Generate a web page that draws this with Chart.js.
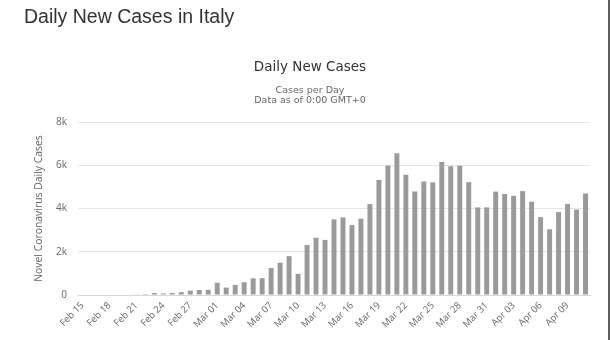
<!DOCTYPE html>
<html>
<head>
<meta charset="utf-8">
<title>Daily New Cases in Italy</title>
<script src="https://cdn.jsdelivr.net/npm/chart.js@4/dist/chart.umd.min.js"></script>
<style>
    body { margin: 0; background: #fff; }
    #painel { position: relative; width: 610px; height: 340px; overflow: hidden; }
    #painel h1 {
        position: absolute; left: 24px; top: 6px; margin: 0;
        font: normal 19.5px/20px "Liberation Sans", Arial, sans-serif;
        color: #333;
    }
    #painel .borda { position: absolute; left: 608px; top: 0; width: 2px; height: 340px; background: #5e5e5e; }
    #grafico { position: absolute; left: 0; top: 0; }
</style>
</head>
<body>
<div id="painel">
    <canvas id="grafico" width="610" height="340"></canvas>
    <h1>Daily New Cases in Italy</h1>
    <div class="borda"></div>
</div>
<script>
// dias mostrados no eixo x
const dias = [
    'Feb 15', 'Feb 16', 'Feb 17', 'Feb 18', 'Feb 19', 'Feb 20', 'Feb 21', 'Feb 22',
    'Feb 23', 'Feb 24', 'Feb 25', 'Feb 26', 'Feb 27', 'Feb 28', 'Feb 29',
    'Mar 01', 'Mar 02', 'Mar 03', 'Mar 04', 'Mar 05', 'Mar 06', 'Mar 07', 'Mar 08',
    'Mar 09', 'Mar 10', 'Mar 11', 'Mar 12', 'Mar 13', 'Mar 14', 'Mar 15', 'Mar 16',
    'Mar 17', 'Mar 18', 'Mar 19', 'Mar 20', 'Mar 21', 'Mar 22', 'Mar 23', 'Mar 24',
    'Mar 25', 'Mar 26', 'Mar 27', 'Mar 28', 'Mar 29', 'Mar 30', 'Mar 31',
    'Apr 01', 'Apr 02', 'Apr 03', 'Apr 04', 'Apr 05', 'Apr 06', 'Apr 07', 'Apr 08',
    'Apr 09', 'Apr 10', 'Apr 11'
];

// novos casos por dia
const novosCasos = [
    0, 0, 0, 0, 0, 0, 17, 42,
    93, 74, 93, 131, 202, 233, 240,
    566, 342, 466, 587, 769, 778, 1247, 1492,
    1797, 977, 2313, 2651, 2547, 3497, 3590, 3233,
    3526, 4207, 5322, 5986, 6557, 5560, 4789, 5249,
    5210, 6153, 5959, 5974, 5217, 4050, 4053,
    4782, 4668, 4585, 4805, 4316, 3599, 3039, 3836,
    4204, 3951, 4694
];

// rótulos do eixo y (0, 2k, 4k, 6k, 8k)
const rotulosY = ['0', '2k', '4k', '6k', '8k'];
const passoY = 2000;
const passoX = 3;  // um rótulo a cada 3 dias

const fonteTitulo = 'DejaVu Sans';
const fonteEixo = 'Open Sans';

new Chart(document.getElementById('grafico'), {
    type: 'bar',
    data: {
        labels: dias,
        datasets: [{
            label: 'Daily Cases',
            data: novosCasos,
            backgroundColor: '#9a9a9a',
            barPercentage: 0.55,
            categoryPercentage: 1.0
        }]
    },
    options: {
        responsive: false,
        animation: false,
        layout: { padding: { left: 30, right: 20, top: 0, bottom: 0 } },
        plugins: {
            legend: { display: false },
            tooltip: { enabled: false },
            title: {
                display: true,
                text: 'Daily New Cases',
                color: '#333',
                font: { family: fonteTitulo, size: 13.5, weight: 'normal' },
                padding: { top: 58.9, bottom: 10.4 }
            },
            subtitle: {
                display: true,
                text: ['Cases per Day', 'Data as of 0:00 GMT+0'],
                color: '#666',
                font: { family: fonteTitulo, size: 9.5, lineHeight: 1.053 },
                padding: { top: 0, bottom: 16.5 }
            }
        },
        scales: {
            x: {
                grid: { display: false, drawTicks: false },
                border: { display: true, color: '#d8d8d8' },
                ticks: {
                    autoSkip: false,
                    minRotation: 45,
                    maxRotation: 45,
                    padding: 5,
                    color: '#666',
                    font: { family: fonteEixo, size: 9.5 },
                    callback: (v, i) => (i % passoX === 0 ? dias[i] : '')
                },
                afterFit: (s) => { s.height = 45; }
            },
            y: {
                min: 0,
                max: 8000,
                grid: { color: '#e6e6e6', drawTicks: false },
                border: { display: false },
                ticks: {
                    stepSize: passoY,
                    padding: 11,
                    color: '#666',
                    font: { family: fonteEixo, size: 10 },
                    callback: (v) => rotulosY[v / passoY]
                },
                title: {
                    display: true,
                    text: 'Novel Coronavirus Daily Cases',
                    color: '#666',
                    font: { family: fonteEixo, size: 10.4 },
                    padding: { top: 3, bottom: 0 }
                },
                afterFit: (s) => { s.width = 48; }
            }
        }
    }
});
</script>
</body>
</html>
